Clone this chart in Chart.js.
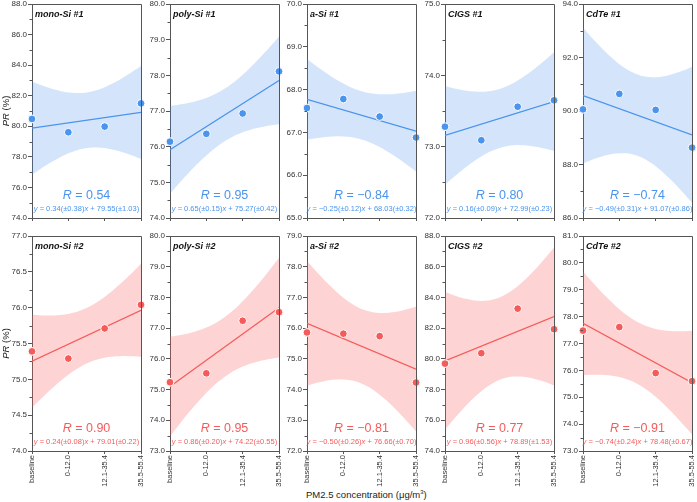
<!DOCTYPE html>
<html>
<head>
<meta charset="utf-8">
<script src="https://cdn.jsdelivr.net/npm/chart.js@4.4.1/dist/chart.umd.min.js"></script>
<style>
  body { margin: 0; background: #fff; }
  #wrap { position: relative; width: 697px; height: 502px; overflow: hidden; font-family: "Liberation Sans", Arial, sans-serif; }
  #wrap canvas { position: absolute; }
  #xtitle { position: absolute; left: 306px; top: 489px; font-size: 9.5px; color: #222; white-space: nowrap; }
  #xtitle sup { font-size: 6px; }
</style>
</head>
<body>
<div id="wrap">
  <div id="xtitle">PM2.5 concentration (μg/m<sup>3</sup>)</div>
</div>
<script>
// x categories (plotted at x = 1..4)
const categories = ['baseline', '0-12.0', '12.1-35.4', '35.5-55.4'];

const panelNames = ['mono-Si #1', 'poly-Si #1', 'a-Si #1', 'CIGS #1', 'CdTe #1',
                    'mono-Si #2', 'poly-Si #2', 'a-Si #2', 'CIGS #2', 'CdTe #2'];

// PR (%) values
const monoSi1 = [80.48, 79.61, 79.98, 81.50];
const polySi1 = [76.14, 76.36, 76.93, 78.11];
const aSi1    = [67.57, 67.78, 67.37, 66.88];
const cigs1   = [73.28, 73.09, 73.56, 73.65];
const cdte1   = [90.06, 90.64, 90.04, 88.63];
const monoSi2 = [75.39, 75.29, 75.71, 76.04];
const polySi2 = [75.24, 75.53, 77.24, 77.52];
const aSi2    = [75.86, 75.82, 75.74, 74.23];
const cigs2   = [79.69, 80.37, 83.27, 81.93];
const cdte2   = [77.48, 77.61, 75.90, 75.60];
const series = [monoSi1, polySi1, aSi1, cigs1, cdte1, monoSi2, polySi2, aSi2, cigs2, cdte2];

const rValues = ['0.54', '0.95', '\u22120.84', '0.80', '\u22120.74',
                 '0.90', '0.95', '\u22120.81', '0.77', '\u22120.91'];
const equations = [
  'y = 0.34(\u00b10.38)x + 79.55(\u00b11.03)',
  'y = 0.65(\u00b10.15)x + 75.27(\u00b10.42)',
  'y = \u22120.25(\u00b10.12)x + 68.03(\u00b10.32)',
  'y = 0.16(\u00b10.09)x + 72.99(\u00b10.23)',
  'y = \u22120.49(\u00b10.31)x + 91.07(\u00b10.86)',
  'y = 0.24(\u00b10.08)x + 79.01(\u00b10.22)',
  'y = 0.86(\u00b10.20)x + 74.22(\u00b10.55)',
  'y = \u22120.50(\u00b10.26)x + 76.66(\u00b10.70)',
  'y = 0.96(\u00b10.56)x + 78.89(\u00b11.53)',
  'y = \u22120.74(\u00b10.24)x + 78.48(\u00b10.67)'
];

// y axis ranges and major tick step
const yMin  = [74, 74, 65, 72, 86, 74, 73, 72, 74, 73];
const yMax  = [88, 80, 70, 75, 94, 77, 80, 79, 88, 81];
const yStep = [2, 1, 1, 1, 2, 0.5, 1, 1, 2, 1];

const blue = '#4a94ee', blueBand = 'rgba(74,148,238,0.24)';
const red = '#f65b5b', redBand = 'rgba(248,92,92,0.27)';
const axisColor = '#555';
const textColor = '#333';
const FONT = '"Liberation Sans", Arial, sans-serif';

// layout of the plot boxes
const plotLeft = [32, 170, 307, 445, 583];
const plotW = 111;
const rowTop = [4, 236];
const rowH = [214, 215];

// least squares fit + 95% confidence band (t = 4.303 for 2 dof)
function fitBand(ys) {
  const n = ys.length, xs = ys.map((_, i) => i + 1);
  const mx = xs.reduce((a, b) => a + b) / n, my = ys.reduce((a, b) => a + b) / n;
  let sxx = 0, sxy = 0;
  xs.forEach((x, i) => { sxx += (x - mx) ** 2; sxy += (x - mx) * (ys[i] - my); });
  const b = sxy / sxx, a = my - b * mx;
  let sse = 0;
  xs.forEach((x, i) => { sse += (ys[i] - a - b * x) ** 2; });
  const s = Math.sqrt(sse / (n - 2)), t = 4.303;
  const upper = [], lower = [];
  for (let k = 0; k <= 30; k++) {
    const x = 1 + k * 0.1;
    const h = t * s * Math.sqrt(1 / n + (x - mx) ** 2 / sxx);
    upper.push({ x: x, y: a + b * x + h });
    lower.push({ x: x, y: a + b * x - h });
  }
  return { line: [{ x: 1, y: a + b }, { x: 4, y: a + 4 * b }], upper, lower };
}

function drawRuns(ctx, runs, cx, y, size, color) {
  const f = it => (it ? 'italic ' : '') + size + 'px ' + FONT;
  let total = 0;
  runs.forEach(r => { ctx.font = f(r[1]); total += ctx.measureText(r[0]).width; });
  let x = cx - total / 2;
  ctx.fillStyle = color;
  ctx.textAlign = 'left';
  runs.forEach(r => { ctx.font = f(r[1]); ctx.fillText(r[0], x, y); x += ctx.measureText(r[0]).width; });
}

const panelDecor = {
  id: 'panelDecor',
  afterDraw(chart, args, o) {
    const ctx = chart.ctx, a = chart.chartArea, ys = chart.scales.y;
    ctx.save();
    // top and right frame
    ctx.strokeStyle = axisColor;
    ctx.lineWidth = 1;
    ctx.beginPath();
    ctx.moveTo(a.left, Math.round(a.top) + 0.5);
    ctx.lineTo(Math.round(a.right) + 0.5, Math.round(a.top) + 0.5);
    ctx.lineTo(Math.round(a.right) + 0.5, a.bottom);
    ctx.stroke();
    // minor ticks
    const minor = o.step / 2;
    ctx.beginPath();
    for (let v = ys.min + minor; v < ys.max; v += o.step) {
      const py = Math.round(ys.getPixelForValue(v)) + 0.5;
      ctx.moveTo(a.left - 2.5, py);
      ctx.lineTo(a.left, py);
    }
    ctx.stroke();
    // panel name
    ctx.font = 'italic bold 9px ' + FONT;
    ctx.fillStyle = '#111';
    ctx.textAlign = 'left';
    ctx.textBaseline = 'alphabetic';
    ctx.fillText(o.name, a.left + 3, a.top + 13);
    // R and fit equation
    const cx = (a.left + a.right) / 2;
    drawRuns(ctx, [['R', true], [' = ' + o.r, false]], cx, a.bottom - 19, 12.5, o.color);
    const parts = o.eq.split(/([xy])/).filter(p => p !== '').map(p => [p, p === 'x' || p === 'y']);
    drawRuns(ctx, parts, cx, a.bottom - 7.5, 7.5, o.color);
    // y axis title on first column
    if (o.yTitle) {
      ctx.translate(9, (a.top + a.bottom) / 2);
      ctx.rotate(-Math.PI / 2);
      drawRuns(ctx, [['PR', true], [' (%)', false]], 0, 0, 9.5, '#222');
    }
    ctx.restore();
  }
};

function makePanel(i) {
  const col = i % 5, row = Math.floor(i / 5);
  const padTop = 6, bottomSpace = row === 0 ? 6 : 50;
  const canvas = document.createElement('canvas');
  const w = 32 + plotW + 8, h = padTop + rowH[row] + bottomSpace;
  canvas.width = w; canvas.height = h;
  canvas.style.left = (plotLeft[col] - 32) + 'px';
  canvas.style.top = (rowTop[row] - padTop) + 'px';
  canvas.style.width = w + 'px'; canvas.style.height = h + 'px';
  document.getElementById('wrap').appendChild(canvas);

  const color = row === 0 ? blue : red;
  const band = row === 0 ? blueBand : redBand;
  const fit = fitBand(series[i]);
  const pts = series[i].map((v, k) => ({ x: k + 1, y: v }));

  new Chart(canvas, {
    type: 'scatter',
    data: {
      datasets: [
        { data: pts, pointRadius: 3.9, backgroundColor: color, borderColor: '#fff', borderWidth: 1, clip: false },
        { data: fit.line, showLine: true, borderColor: color, borderWidth: 1.2, pointRadius: 0 },
        { data: fit.upper, showLine: true, borderWidth: 0, borderColor: 'transparent', pointRadius: 0, backgroundColor: band, fill: '+1' },
        { data: fit.lower, showLine: true, borderWidth: 0, borderColor: 'transparent', pointRadius: 0 }
      ]
    },
    options: {
      responsive: false,
      animation: false,
      events: [],
      layout: { autoPadding: false, padding: { left: 0, top: padTop, right: 8, bottom: 0 } },
      plugins: {
        legend: { display: false },
        tooltip: { enabled: false },
        panelDecor: { name: panelNames[i], r: rValues[i], eq: equations[i], color: color, step: yStep[i], yTitle: col === 0 }
      },
      scales: {
        x: {
          type: 'linear', min: 1, max: 4,
          afterFit: s => { s.height = bottomSpace; },
          border: { color: axisColor },
          grid: { drawOnChartArea: false, tickLength: 3, tickColor: axisColor },
          ticks: {
            stepSize: 1, autoSkip: false, minRotation: 90, maxRotation: 90, padding: 1,
            color: textColor, font: { family: FONT, size: 7.5 },
            callback: v => row === 0 ? '' : categories[v - 1]
          }
        },
        y: {
          min: yMin[i], max: yMax[i],
          afterFit: s => { s.width = 32; },
          border: { color: axisColor },
          grid: { drawOnChartArea: false, tickLength: 4, tickColor: axisColor },
          ticks: {
            stepSize: yStep[i], padding: 1,
            color: textColor, font: { family: FONT, size: 8 },
            callback: v => v.toFixed(1)
          }
        }
      }
    },
    plugins: [panelDecor]
  });
}

for (let i = 0; i < 10; i++) makePanel(i);
</script>
</body>
</html>
